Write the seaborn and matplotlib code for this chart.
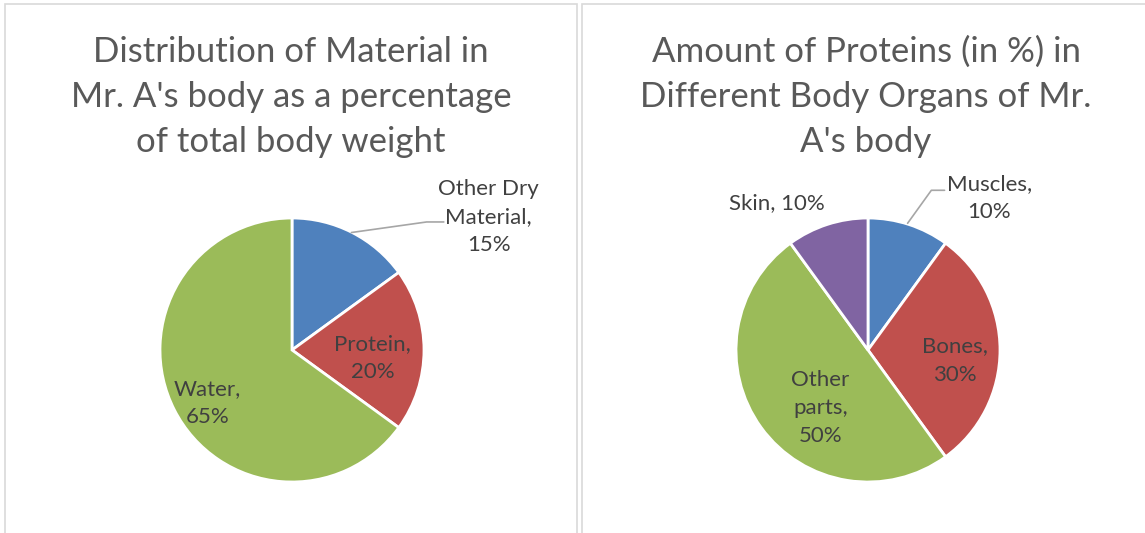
import numpy as np
import matplotlib.pyplot as plt
from matplotlib.patches import Rectangle
import seaborn as sns

sns.set_theme(style="white")
plt.rcParams['font.family'] = ['Lato', 'DejaVu Sans']

# data
material_labels = ["Other Dry\nMaterial,", "Protein,", "Water,"]
material_values = [15, 20, 65]
protein_labels = ["Muscles,", "Bones,", "Other\nparts,", "Skin,"]
protein_values = [10, 30, 50, 10]

title_left = "Distribution of Material in\nMr. A's body as a percentage\nof total body weight"
title_right = "Amount of Proteins (in %) in\nDifferent Body Organs of Mr.\nA's body"

pal = ["#4F81BD", "#C0504D", "#9BBB59", "#8064A2"]
txt = "#404040"

W, H = 1145, 533
R = 132  # pie radius in px
fig = plt.figure(figsize=(W / 100, H / 100), dpi=100)
fig.patch.set_facecolor("white")

# panel frames
for x0, x1 in [(5, 577), (582, 1150)]:
    fig.patches.append(Rectangle((x0 / W, -0.05), (x1 - x0) / W, (H - 4) / H + 0.05,
                                 transform=fig.transFigure, fill=False,
                                 edgecolor="#D9D9D9", lw=1.2))


def make_ax(cx, cy):
    return fig.add_axes([(cx - 2 * R) / W, (H - cy - 2 * R) / H, 4 * R / W, 4 * R / H])


def draw_pie(ax, values, labels, label_pos, leaders, one_line=()):
    wedges, _ = ax.pie(values, colors=pal[:len(values)], startangle=90, counterclock=False,
                       radius=1, wedgeprops=dict(edgecolor="white", linewidth=2))
    ax.set_xlim(-2, 2)
    ax.set_ylim(-2, 2)
    ax.set_aspect("equal")
    ax.axis("off")
    for lab, v, pos in zip(labels, values, label_pos):
        s = f"{lab} {v}%" if lab in one_line else f"{lab}\n{v}%"
        ax.text(pos[0], pos[1], s, ha="center", va="center", fontsize=16, color=txt,
                linespacing=1.5, clip_on=False)
    for pts in leaders:
        xs, ys = zip(*pts)
        ax.plot(xs, ys, color="#A6A6A6", lw=1.2, clip_on=False)


# left pie
axl = make_ax(292, 350)
draw_pie(axl, material_values, material_labels,
         [(1.49, 1.01), (0.61, -0.06), (-0.64, -0.40)],
         [[(0.45, 0.89), (1.02, 0.97), (1.15, 0.97)]])
fig.text(291 / W, 1 - 97 / H, title_left, ha="center", va="center", fontsize=25,
         color="#595959", linespacing=1.5)

# right pie
axr = make_ax(868, 350)
draw_pie(axr, protein_values, protein_labels,
         [(0.92, 1.15), (0.66, -0.08), (-0.36, -0.44), (-0.69, 1.11)],
         [[(0.30, 0.96), (0.48, 1.21), (0.58, 1.21)]], one_line=("Skin,",))
fig.text(866 / W, 1 - 97 / H, title_right, ha="center", va="center", fontsize=25,
         color="#595959", linespacing=1.5)

fig.savefig("out.png", dpi=100)
